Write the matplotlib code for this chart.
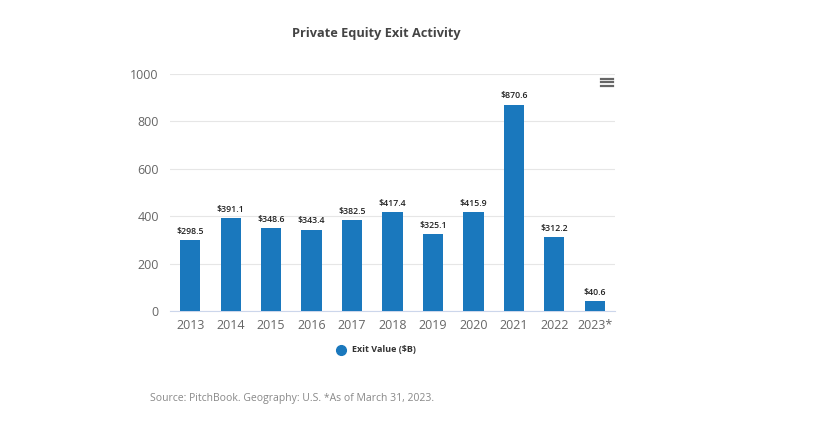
import matplotlib.pyplot as plt
import numpy as np

years = ["2013", "2014", "2015", "2016", "2017", "2018", "2019", "2020", "2021", "2022", "2023*"]
exit_value = [298.5, 391.1, 348.6, 343.4, 382.5, 417.4, 325.1, 415.9, 870.6, 312.2, 40.6]
y_ticks = [0, 200, 400, 600, 800, 1000]

plt.rcParams["font.family"] = ["Open Sans", "DejaVu Sans"]

fig = plt.figure(figsize=(8.25, 4.42), dpi=100)
fig.set_facecolor("white")
ax = fig.add_axes([170 / 825, 1 - 311 / 442, 445 / 825, 237 / 442])

x = np.arange(len(years))
bars = ax.bar(x, exit_value, width=0.5, color="#1a78bd", zorder=3)
for xi, v in zip(x, exit_value):
    ax.text(xi, v + 18, f"${v:.1f}", ha="center", va="bottom", fontsize=6.3,
            color="#222222", fontweight="semibold")

ax.set_xlim(-0.5, len(years) - 0.5)
ax.set_ylim(0, 1000)
ax.set_yticks(y_ticks)
ax.set_yticklabels([str(t) for t in y_ticks])
ax.set_xticks(x)
ax.set_xticklabels(years)
ax.tick_params(axis="both", length=0, labelsize=9, colors="#666666")
ax.tick_params(axis="y", pad=8)
ax.tick_params(axis="x", pad=6)
ax.grid(axis="y", color="#e6e6e6", linewidth=0.8, zorder=0)
for side in ["top", "right", "left"]:
    ax.spines[side].set_visible(False)
ax.spines["bottom"].set_color("#ccd6eb")
ax.spines["bottom"].set_linewidth(0.8)

fig.text(376 / 825, 1 - 34 / 442, "Private Equity Exit Activity", ha="center", va="center",
         fontsize=9.2, fontweight="bold", color="#444444")

# legend
fig.add_artist(plt.Line2D([341 / 825], [1 - 350 / 442], marker="o", markersize=7,
                          color="#1a78bd", linestyle="none", transform=fig.transFigure))
fig.text(352 / 825, 1 - 350 / 442, "Exit Value ($B)", ha="left", va="center",
         fontsize=6.5, fontweight="bold", color="#333333")

fig.text(150 / 825, 1 - 398 / 442, "Source: PitchBook. Geography: U.S. *As of March 31, 2023.",
         ha="left", va="center", fontsize=7.5, color="#888888")

# menu icon
for dy in [-3.5, 0, 3.5]:
    fig.add_artist(plt.Line2D([601 / 825, 613 / 825], [1 - (82 + dy) / 442] * 2,
                              color="#666666", linewidth=1.6, transform=fig.transFigure))

fig.savefig("out.png", dpi=100)
